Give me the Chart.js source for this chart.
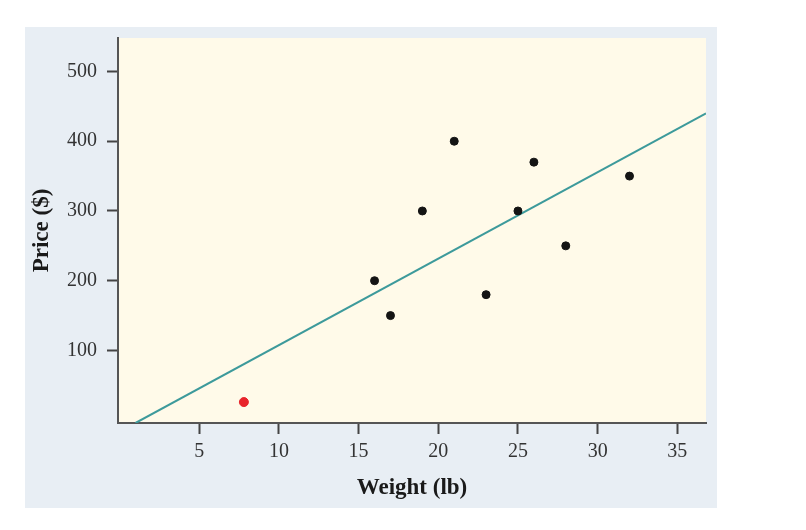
<!DOCTYPE html>
<html>
<head>
<meta charset="utf-8">
<title>Price vs Weight</title>
<script src="https://cdn.jsdelivr.net/npm/chart.js@4.4.1/dist/chart.umd.min.js"></script>
<style>
    html, body { margin: 0; padding: 0; background: #ffffff; }
    #wrap { position: relative; width: 806px; height: 530px; }
    #panel { position: absolute; left: 25px; top: 27px; width: 692px; height: 481px; background: #e8eef4; }
    #chart { position: absolute; left: 0; top: 0; }
</style>
</head>
<body>
<div id="wrap">
    <div id="panel"></div>
    <canvas id="chart" width="806" height="530"></canvas>
</div>
<script>
// Data
const weights = [16, 17, 19, 21, 23, 25, 26, 28, 32];
const prices = [200, 150, 300, 400, 180, 300, 370, 250, 350];
const outlierWeight = [7.8];
const outlierPrice = [26];
// fitted line, two ends
const lineWeights = [1.0, 36.8];
const linePrices = [-4, 440];
const xTicks = [5, 10, 15, 20, 25, 30, 35];
const yTicks = [100, 200, 300, 400, 500];

function toPoints(xs, ys) {
    return xs.map((x, i) => ({ x: x, y: ys[i] }));
}

// paint the cream plot area behind everything
const plotBackground = {
    id: 'plotBackground',
    beforeDraw(chart) {
        const { ctx, chartArea } = chart;
        ctx.save();
        ctx.fillStyle = '#fffae9';
        ctx.fillRect(chartArea.left, chartArea.top, chartArea.right - chartArea.left, chartArea.bottom - chartArea.top);
        ctx.restore();
    }
};

const tickFont = { family: "'Liberation Serif', 'DejaVu Serif', serif", size: 20 };
const titleFont = { family: "'Liberation Serif', 'DejaVu Serif', serif", size: 23, weight: 'bold' };

new Chart(document.getElementById('chart').getContext('2d'), {
    type: 'scatter',
    data: {
        datasets: [
            {
                label: 'Points',
                data: toPoints(weights, prices),
                backgroundColor: '#141414',
                borderColor: '#141414',
                pointRadius: 4,
                pointHoverRadius: 4
            },
            {
                label: 'Outlier',
                data: toPoints(outlierWeight, outlierPrice),
                backgroundColor: '#e8242b',
                borderColor: '#e8242b',
                pointRadius: 4.5,
                pointHoverRadius: 4.5
            },
            {
                label: 'Fit',
                type: 'line',
                data: toPoints(lineWeights, linePrices),
                borderColor: '#3d9a9b',
                borderWidth: 2,
                pointRadius: 0,
                fill: false
            }
        ]
    },
    options: {
        responsive: false,
        animation: false,
        events: [],
        layout: { padding: { left: 0, top: 38, right: 100, bottom: 0 } },
        scales: {
            x: {
                type: 'linear',
                min: -0.1,
                max: 36.8,
                afterFit: function(scale) { scale.height = 107; },
                afterBuildTicks: function(scale) {
                    scale.ticks = xTicks.map(v => ({ value: v }));
                },
                ticks: { font: tickFont, color: '#333', padding: 6 },
                grid: {
                    drawOnChartArea: false,
                    drawTicks: true,
                    tickLength: 11,
                    tickWidth: 2,
                    tickColor: '#444'
                },
                border: { display: true, color: '#555', width: 2 },
                title: {
                    display: true,
                    text: 'Weight (lb)',
                    font: titleFont,
                    color: '#1a1a1a',
                    padding: { top: 0, bottom: 28 }
                }
            },
            y: {
                type: 'linear',
                min: -4,
                max: 548,
                afterFit: function(scale) { scale.width = 118; },
                afterBuildTicks: function(scale) {
                    scale.ticks = yTicks.map(v => ({ value: v }));
                },
                ticks: { font: tickFont, color: '#333', padding: 10 },
                grid: {
                    drawOnChartArea: false,
                    drawTicks: true,
                    tickLength: 11,
                    tickWidth: 2,
                    tickColor: '#444'
                },
                border: { display: true, color: '#555', width: 2 },
                title: {
                    display: true,
                    text: 'Price ($)',
                    font: titleFont,
                    color: '#1a1a1a',
                    padding: { top: 28, bottom: 0 }
                }
            }
        },
        plugins: {
            legend: { display: false },
            tooltip: { enabled: false }
        }
    },
    plugins: [plotBackground]
});
</script>
</body>
</html>
